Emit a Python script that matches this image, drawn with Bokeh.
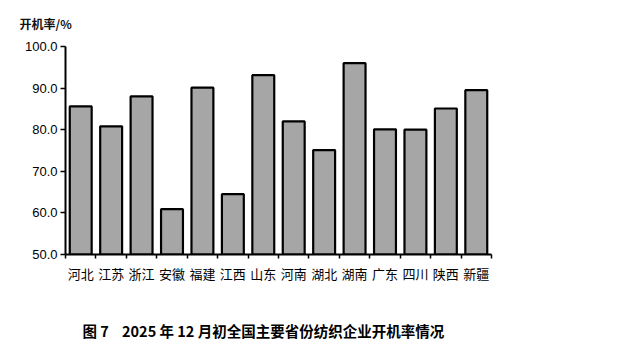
from bokeh.plotting import figure
from bokeh.models import Range1d, FixedTicker, Title, ColumnDataSource, CustomJSTickFormatter
from bokeh.embed import file_html
from bokeh.resources import INLINE

provinces = ["河北", "江苏", "浙江", "安徽", "福建", "江西", "山东", "河南", "湖北", "湖南", "广东", "四川", "陕西", "新疆"]
rates = [85.6, 80.8, 88.0, 60.9, 90.1, 64.5, 93.1, 82.0, 75.1, 96.0, 80.1, 80.0, 85.1, 89.5]
y_ticks = [50, 60, 70, 80, 90, 100]
y_title = "开机率/%"
chart_title = "图 7\u00a0\u00a0\u00a0 2025 年 12 月初全国主要省份纺织企业开机率情况"

n = len(provinces)
centers = [i + 0.5 for i in range(n)]
bounds = list(range(n + 1))

src = ColumnDataSource(dict(x=centers, top=rates, name=provinces))

FRAME_LEFT, FRAME_BOTTOM = 65, 254

p = figure(width=619, height=351, output_backend="svg", toolbar_location=None,
           x_range=Range1d(0, n), y_range=Range1d(50, 100),
           min_border_left=FRAME_LEFT, min_border_right=128, min_border_top=46,
           min_border_bottom=351 - FRAME_BOTTOM)
p.outline_line_color = None
p.xgrid.grid_line_color = None
p.ygrid.grid_line_color = None
p.background_fill_color = "white"
p.border_fill_color = "white"

p.vbar(x="x", top="top", bottom=50, width=0.72, source=src,
       fill_color="#a6a6a6", line_color="black", line_width=2.2)

# x axis
xa = p.xaxis[0]
xa.ticker = FixedTicker(ticks=centers, minor_ticks=bounds)
xa.major_label_overrides = {c: name for c, name in zip(centers, provinces)}
xa.major_tick_out = 0
xa.major_tick_in = 0
xa.minor_tick_out = 4
xa.minor_tick_in = 0
xa.minor_tick_line_width = 1.5
xa.minor_tick_line_color = "black"
xa.axis_line_width = 2
xa.axis_line_color = "black"
xa.major_label_text_font = "Noto Sans CJK SC"
xa.major_label_text_font_size = "13px"
xa.major_label_text_color = "black"
xa.major_label_standoff = 5

# y axis
ya = p.yaxis[0]
ya.ticker = FixedTicker(ticks=y_ticks)
ya.formatter = CustomJSTickFormatter(code="return tick.toFixed(1);")
ya.major_tick_out = 5
ya.major_tick_in = 0
ya.major_tick_line_width = 1.5
ya.minor_tick_out = 0
ya.minor_tick_in = 0
ya.axis_line_width = 2
ya.axis_line_color = "black"
ya.major_label_text_font = "Liberation Sans"
ya.major_label_text_font_size = "13px"
ya.major_label_text_color = "black"
ya.major_label_standoff = 3

p.add_layout(Title(text=y_title, align="left", offset=19 - FRAME_LEFT, standoff=26,
                   vertical_align="top",
                   text_font="Noto Sans CJK SC", text_font_size="12px",
                   text_font_style="bold", text_color="#111111"), "above")
# spacer between the axis labels and the caption
p.add_layout(Title(text=" ", standoff=19, text_font_size="10px"), "below")
p.add_layout(Title(text=chart_title, align="left", offset=82 - FRAME_LEFT, standoff=0,
                   text_font="Noto Sans CJK SC", text_font_size="14.5px",
                   text_font_style="bold", text_color="black"), "below")

open("out.html", "w").write(file_html(p, INLINE))
